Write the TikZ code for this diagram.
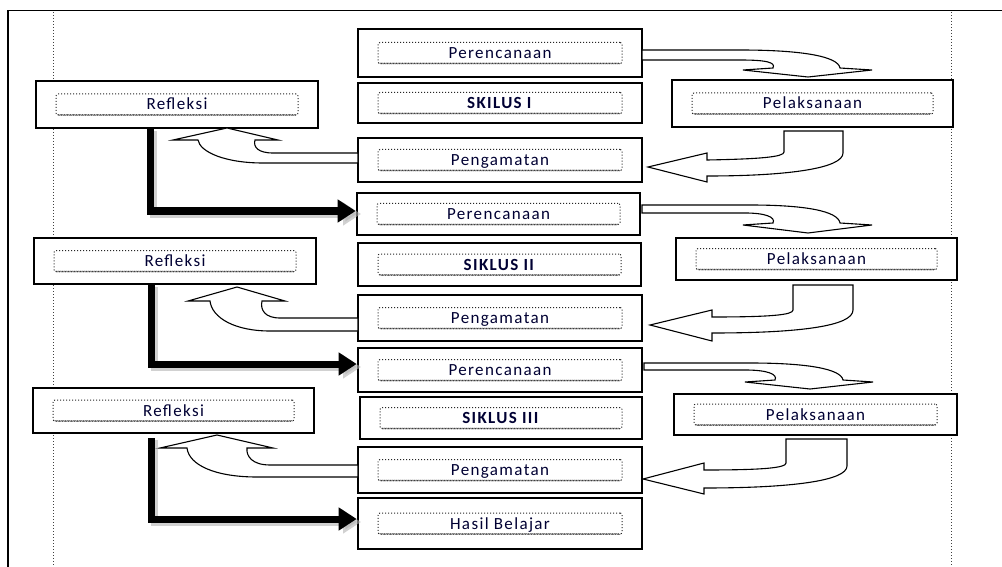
\documentclass[tikz,border=0pt]{standalone}
\usepackage{fontspec}
\setmainfont{Carlito}[LetterSpace=8]
\usetikzlibrary{arrows.meta,calc,decorations.pathmorphing}
\newcommand\flowbox[6]{%
  \node[outerbox,minimum width={#4-#2},minimum height={#5-#3}] (#1) at ({(#2+#4)/2},{(#3+#5)/2}) {};
  \node[innerbox,minimum width={#4-#2-40},minimum height=21] (#1in) at (#1.center) {#6};
  \draw[wavy] ([xshift=2pt,yshift=0.5pt]#1in.south west) -- ([xshift=-2pt,yshift=0.5pt]#1in.south east);}
\begin{document}
\begin{tikzpicture}[x=1pt,y=-1pt,
  outerbox/.style={draw=black,line width=2.6pt,fill=white,inner sep=0pt,rectangle},
  innerbox/.style={draw=black!85,dotted,line width=1pt,rounded corners=2pt,inner sep=0pt,
     text height=11pt,text depth=0pt,
     text=black!80!blue,font=\fontsize{17}{19}\selectfont},
  wavy/.style={draw=black!70,line width=0.5pt,decorate,decoration={snake,segment length=2pt,amplitude=0.6pt}},
  blockarrow/.style={draw=black,line width=1.1pt,fill=white,line join=miter},
  thickarrow/.style={line width=7pt,-{Triangle[length=18pt,width=22pt]}},
  shadowarrow/.style={line width=7pt,draw=black!30,opacity=0.6,-{Triangle[length=18pt,width=22pt]}},
  guide/.style={dotted,line width=1pt,black!75}]
\useasboundingbox (0,0) rectangle (1002,567);
% frame and guides
\draw[line width=1.8pt] (8,570) -- (8,10.5) -- (1005,10.5);
\draw[guide] (53,12) -- (53,567);
\draw[guide] (951,12) -- (951,567);
% boxes
\flowbox{per1}{358}{29}{642}{77}{Perencanaan}
\flowbox{sik1}{358}{83}{642}{123}{\textbf{SKILUS I}}
\flowbox{pen1}{358}{138}{642}{182}{Pengamatan}
\flowbox{per2}{357}{193}{640}{235}{Perencanaan}
\flowbox{sik2}{358}{243}{641}{286}{\textbf{SIKLUS II}}
\flowbox{pen2}{358}{295}{642}{341}{Pengamatan}
\flowbox{per3}{358}{348}{642}{392}{Perencanaan}
\flowbox{sik3}{360}{397}{642}{439}{\textbf{SIKLUS III}}
\flowbox{pen3}{358}{447}{642}{493}{Pengamatan}
\flowbox{hasil}{358}{498}{642}{549}{Hasil Belajar}
\flowbox{ref1}{36}{81}{318}{128}{Refleksi}
\flowbox{ref2}{34}{238}{316}{284}{Refleksi}
\flowbox{ref3}{33}{388}{314}{433}{Refleksi}
\flowbox{pel1}{672}{80}{953}{127}{Pelaksanaan}
\flowbox{pel2}{676}{238}{957}{280}{Pelaksanaan}
\flowbox{pel3}{674}{394}{957}{435}{Pelaksanaan}
% curved down arrows: Perencanaan -> Pelaksanaan
\draw[blockarrow] (642,50) -- (740,50) .. controls (800,50) and (838,56) .. (840,68)
  -- (872,70) -- (808,77) -- (743,70) -- (773,68) .. controls (776,62) and (765,60) .. (740,60) -- (642,60) -- cycle;
\draw[blockarrow] (642,205) -- (750,205) .. controls (805,205) and (838,211) .. (840,223)
  -- (872,225) -- (808,233) -- (743,225) -- (773,223) .. controls (776,217) and (765,213) .. (745,213) -- (642,213) -- cycle;
\draw[blockarrow] (644,363) -- (750,363) .. controls (808,363) and (841,369) .. (843,380)
  -- (873,382) -- (810,389) -- (745,382) -- (775,380) .. controls (778,374) and (767,370) .. (745,370) -- (644,370) -- cycle;
% U-turn arrows: Pelaksanaan -> Pengamatan
\draw[blockarrow] (784,131) -- (784,152) .. controls (784,157) and (760,159) .. (707,160)
  -- (707,153) -- (648,167) -- (707,182) -- (707,176) .. controls (790,176) and (843,168) .. (843,153) -- (843,131) -- cycle;
\draw[blockarrow] (793,285) -- (793,310) .. controls (793,315) and (770,317) .. (712,317)
  -- (712,310) -- (650,325) -- (712,341) -- (712,333) .. controls (800,333) and (853,326) .. (853,310) -- (853,285) -- cycle;
\draw[blockarrow] (786,439) -- (786,463) .. controls (786,468) and (762,470) .. (704,470)
  -- (704,463) -- (643,479) -- (704,494) -- (704,488) .. controls (790,488) and (847,481) .. (847,466) -- (847,439) -- cycle;
% curved up arrows: Pengamatan -> Refleksi
\draw[blockarrow] (358,153) -- (273,153) .. controls (258,153) and (253,147) .. (255,140)
  -- (278,140) -- (227,128) -- (173,140) -- (198,140) .. controls (200,152) and (225,163) .. (263,163) -- (358,163) -- cycle;
\draw[blockarrow] (358,318) -- (280,318) .. controls (265,318) and (260,310) .. (262,301)
  -- (285,301) -- (237,287) -- (188,301) -- (210,301) .. controls (212,318) and (235,331) .. (270,331) -- (358,331) -- cycle;
\draw[blockarrow] (358,465) -- (270,465) .. controls (252,465) and (246,456) .. (247,448)
  -- (273,448) -- (217,435) -- (160,448) -- (187,448) .. controls (189,465) and (215,477) .. (257,477) -- (358,477) -- cycle;
% thick L arrows: Refleksi -> next
\draw[shadowarrow] (153,131) |- (361,214);
\draw[shadowarrow] (154,287) |- (361,367);
\draw[shadowarrow] (154,440) |- (361,522);
\draw[thickarrow] ([xshift=-27pt]ref1.south) |- ([yshift=3pt]per2.west);
\draw[thickarrow] ([xshift=-24pt]ref2.south) |- ([yshift=6pt]per3.west);
\draw[thickarrow] ([xshift=-22.5pt,yshift=-4pt]ref3.south) |- ([yshift=4.5pt]hasil.west);
\end{tikzpicture}
\end{document}
